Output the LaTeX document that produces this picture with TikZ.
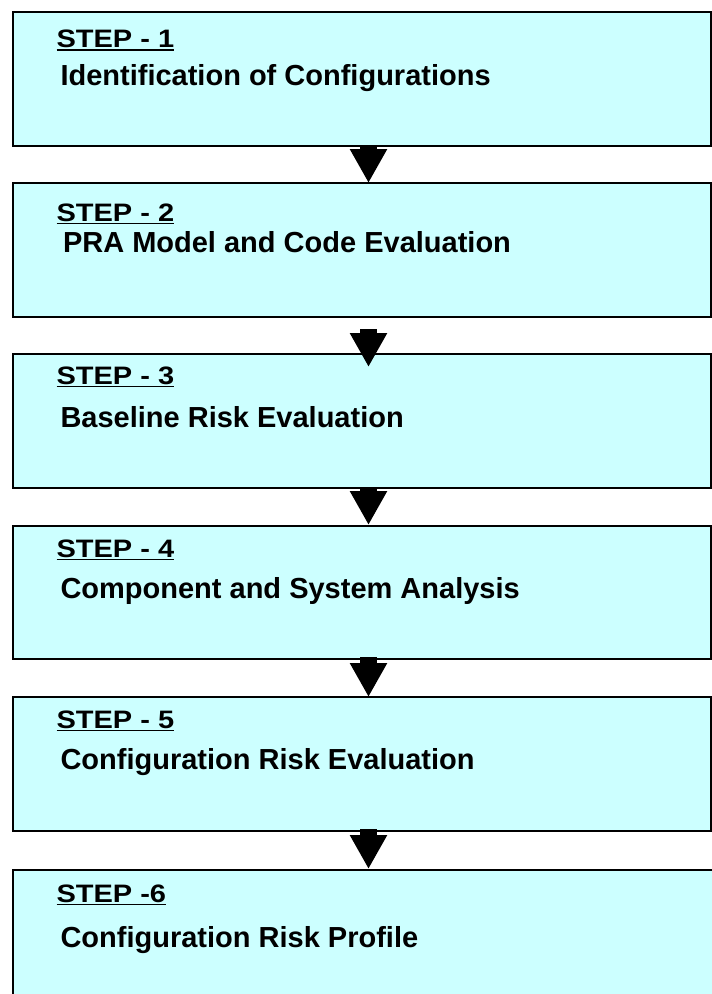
\documentclass[tikz,border=0pt]{standalone}
\usepackage{fontspec}
\setmainfont{Liberation Sans}
\usetikzlibrary{arrows.meta}
\definecolor{boxfill}{HTML}{CCFFFF}
% underlined heading with a rule sitting just below the baseline
\newcommand{\stepul}[1]{\setbox0\hbox{#1}\rlap{\rule[-4bp]{\wd0}{2bp}}\box0}
% slightly flattened lettering for the headings
\newcommand{\flatten}[1]{\scalebox{1}[0.87]{#1}}
\tikzset{
  stepbox/.style={draw=black, line width=2bp, fill=boxfill, minimum width=698bp,
    minimum height=134bp, inner sep=0pt, outer sep=0pt, anchor=north west},
  flow/.style={draw=black, line width=17bp, -{Triangle[length=34bp,width=35bp]}},
  steplabel/.style={anchor=base west, inner sep=0pt, outer sep=0pt,
    font=\fontsize{29bp}{34bp}\selectfont\bfseries},
}
\begin{document}
\begin{tikzpicture}[x=1bp, y=-1bp]
  \useasboundingbox (0,0) rectangle (712,994);
  \clip (0,0) rectangle (712,994);

  % step boxes
  \node[stepbox] (b1) at (13,12) {};
  \node[stepbox] (b2) at (13,183) {};
  \node[stepbox] (b3) at (13,354) {};
  \node[stepbox, minimum height=133bp] (b4) at (13,526) {};
  \node[stepbox] (b5) at (13,697) {};
  \node[stepbox, minimum width=760bp, minimum height=180bp] (b6) at (13,870) {};

  % headings and titles
  \node[steplabel] (h1) at (56.5,47.5) {\flatten{\stepul{STEP - 1}}};
  \node[steplabel] (s1) at (60.5,85) {Identification of Configurations};
  \node[steplabel] (h2) at (56.5,221) {\flatten{\stepul{STEP - 2}}};
  \node[steplabel] (s2) at (63,252) {PRA Model and Code Evaluation};
  \node[steplabel] (h3) at (56.5,384) {\flatten{\stepul{STEP - 3}}};
  \node[steplabel] (s3) at (60.5,427) {Baseline Risk Evaluation};
  \node[steplabel] (h4) at (56.5,557) {\flatten{\stepul{STEP - 4}}};
  \node[steplabel] (s4) at (60.5,598) {Component and System Analysis};
  \node[steplabel] (h5) at (56.5,728) {\flatten{\stepul{STEP - 5}}};
  \node[steplabel] (s5) at (60.5,769) {Configuration Risk Evaluation};
  \node[steplabel] (h6) at (56.5,902) {\flatten{\stepul{STEP -6}}};
  \node[steplabel] (s6) at (60.5,947) {Configuration Risk Profile};

  % flow arrows between steps
  \draw[flow] ([xshift=6.5bp]b1.south) -- ([xshift=6.5bp]b2.north);
  \draw[flow] ([xshift=6.5bp,yshift=-12bp]b2.south) -- ([xshift=6.5bp,yshift=-13bp]b3.north);
  \draw[flow] ([xshift=6.5bp,yshift=1bp]b3.south) -- ([xshift=6.5bp,yshift=1bp]b4.north);
  \draw[flow] ([xshift=6.5bp,yshift=2bp]b4.south) -- ([xshift=6.5bp]b5.north);
  \draw[flow] ([xshift=6.5bp,yshift=2bp]b5.south) -- ([xshift=6.5bp,yshift=1bp]b5.south |- b6.north);
\end{tikzpicture}
\end{document}
